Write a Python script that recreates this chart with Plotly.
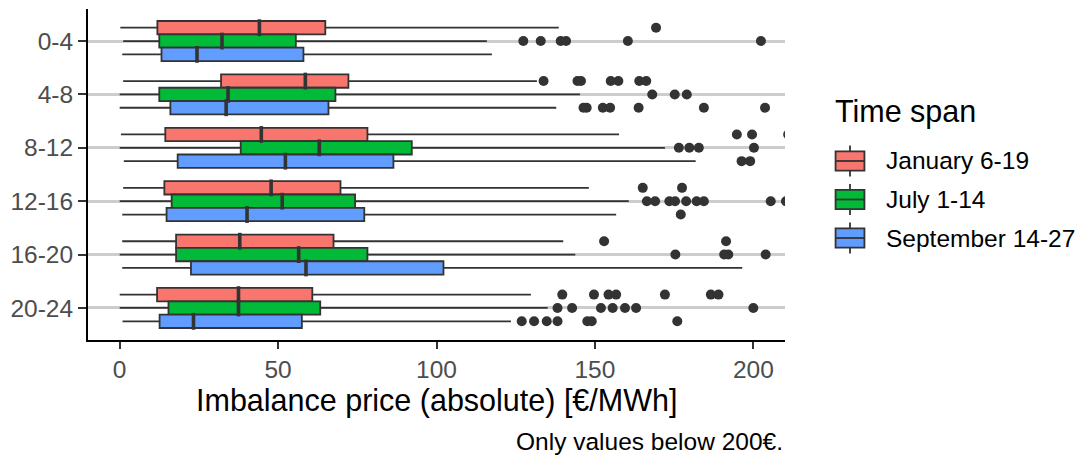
import plotly.graph_objects as go

# ---------------- data ----------------
hours = ["0-4", "4-8", "8-12", "12-16", "16-20", "20-24"]
spans = ["January 6-19", "July 1-14", "September 14-27"]
colors = ["#F8766D", "#00BA38", "#619CFF"]

jan_low = [0.2, 1.1, 0.4, 1.1, 0.8, 0.0]
jan_q1 = [11.9, 32.0, 14.4, 14.1, 17.8, 11.8]
jan_med = [44.1, 58.6, 44.7, 47.8, 37.9, 37.5]
jan_q3 = [64.9, 72.2, 78.2, 69.7, 67.5, 60.8]
jan_high = [138.6, 131.7, 157.6, 148.1, 140.0, 129.8]
jan_out = [[169.3],
           [133.8, 144.5, 145.6, 155.0, 157.4, 164.0, 166.2],
           [194.8, 199.6, 211.0],
           [165.1, 177.5],
           [152.9, 191.4],
           [139.7, 149.7, 154.3, 156.7, 172.1, 186.6, 189.0]]

jul_low = [1.1, 0.0, 0.0, 0.0, 0.0, 0.0]
jul_q1 = [12.5, 12.5, 38.2, 16.4, 17.8, 15.4]
jul_med = [32.3, 34.2, 63.0, 51.3, 56.5, 37.5]
jul_q3 = [55.6, 68.1, 92.2, 74.3, 78.2, 63.3]
jul_high = [115.9, 145.3, 172.1, 160.7, 143.8, 135.1]
jul_out = [[127.4, 132.9, 139.2, 140.9, 160.4, 202.4],
           [168.1, 175.2, 179.0],
           [176.5, 179.8, 182.8, 200.2],
           [166.4, 169.0, 173.5, 175.3, 178.8, 182.1, 184.4, 205.5, 210.3],
           [175.4, 190.8, 192.1, 203.9],
           [138.2, 142.8, 151.9, 155.6, 159.5, 163.0, 200.0]]

sep_low = [0.8, 0.0, 1.3, 0.8, 0.8, 0.9]
sep_q1 = [13.2, 16.0, 18.3, 14.8, 22.5, 12.6]
sep_med = [24.4, 33.6, 52.3, 40.2, 58.8, 23.3]
sep_q3 = [58.0, 65.9, 86.4, 77.2, 102.2, 57.5]
sep_high = [117.5, 137.8, 181.8, 156.7, 196.5, 123.5]
sep_out = [[],
           [146.4, 147.4, 152.5, 154.8, 163.8, 184.4, 203.7],
           [196.3, 199.0],
           [177.1],
           [],
           [126.9, 130.8, 134.8, 138.2, 147.6, 149.0, 176.0]]

x_ticks = [0, 50, 100, 150, 200]
x_title = "Imbalance price (absolute) [€/MWh]"
caption = "Only values below 200€."
legend_title = "Time span"

series = [
    (jan_low, jan_q1, jan_med, jan_q3, jan_high, jan_out),
    (jul_low, jul_q1, jul_med, jul_q3, jul_high, jul_out),
    (sep_low, sep_q1, sep_med, sep_q3, sep_high, sep_out),
]

# ---------------- layout geometry ----------------
W, H = 1083, 461
PL, PR, PT, PB = 88, 785, 9, 340   # panel edges in pixels
DODGE = 0.25                        # ggplot dodge 0.75 / 3 groups
FONT = "Liberation Sans"
INK = "#333333"
BIG, SMALL = 30.5, 24.5


def px_x(px):
    return (px - PL) / (PR - PL)


def px_y(py):
    return (PB - py) / (PB - PT)


fig = go.Figure()

for j, (low, q1, med, q3, high, out) in enumerate(series):
    pos = [i + 1 + (j - 1) * DODGE for i in range(len(hours))]
    fig.add_trace(go.Box(
        y=pos, q1=q1, median=med, q3=q3, lowerfence=low, upperfence=high,
        orientation="h", width=DODGE, whiskerwidth=0, boxpoints=False,
        fillcolor=colors[j], line=dict(color=INK, width=1.8),
        name=spans[j], showlegend=False,
    ))
    fig.add_trace(go.Scatter(
        x=med, y=pos, mode="markers", hoverinfo="skip", showlegend=False,
        marker=dict(symbol="line-ns", size=12,
                    line=dict(width=3.6, color=INK)),
    ))
    ox, oy = [], []
    for i, vals in enumerate(out):
        for v in vals:
            ox.append(v)
            oy.append(pos[i])
    fig.add_trace(go.Scatter(
        x=ox, y=oy, mode="markers", showlegend=False, name=spans[j],
        marker=dict(size=10, color=INK),
    ))

# ---------------- custom ggplot-like legend ----------------
shapes = []
annotations = []
key = 38.5
key_cx = 850
key_cy0 = 161
for j, name in enumerate(spans):
    cy = key_cy0 + j * key
    x0, x1 = px_x(key_cx - 0.375 * key), px_x(key_cx + 0.375 * key)
    shapes.append(dict(type="line", xref="paper", yref="paper",
                       x0=px_x(key_cx), x1=px_x(key_cx),
                       y0=px_y(cy - 0.4 * key), y1=px_y(cy - 0.25 * key),
                       line=dict(color=INK, width=1.8)))
    shapes.append(dict(type="line", xref="paper", yref="paper",
                       x0=px_x(key_cx), x1=px_x(key_cx),
                       y0=px_y(cy + 0.25 * key), y1=px_y(cy + 0.4 * key),
                       line=dict(color=INK, width=1.8)))
    shapes.append(dict(type="rect", xref="paper", yref="paper",
                       x0=x0, x1=x1,
                       y0=px_y(cy + 0.25 * key), y1=px_y(cy - 0.25 * key),
                       fillcolor=colors[j], line=dict(color=INK, width=1.8)))
    shapes.append(dict(type="line", xref="paper", yref="paper",
                       x0=x0, x1=x1, y0=px_y(cy), y1=px_y(cy),
                       line=dict(color=INK, width=1.8)))
    annotations.append(dict(text=name, xref="paper", yref="paper",
                            x=px_x(884), y=px_y(cy), xanchor="left",
                            yanchor="middle", showarrow=False,
                            font=dict(family=FONT, size=SMALL, color="black")))

annotations.append(dict(text=legend_title, xref="paper", yref="paper",
                        x=px_x(833), y=px_y(112), xanchor="left",
                        yanchor="middle", showarrow=False,
                        font=dict(family=FONT, size=BIG, color="black")))
annotations.append(dict(text=x_title, xref="paper", yref="paper",
                        x=0.5, y=px_y(401), xanchor="center",
                        yanchor="middle", showarrow=False,
                        font=dict(family=FONT, size=BIG, color="black")))
annotations.append(dict(text=caption, xref="paper", yref="paper",
                        x=1.0, y=px_y(442), xanchor="right",
                        yanchor="middle", showarrow=False,
                        font=dict(family=FONT, size=SMALL, color="black")))

fig.update_layout(
    width=W, height=H,
    margin=dict(l=PL, r=W - PR, t=PT, b=H - PB, pad=0),
    paper_bgcolor="white", plot_bgcolor="white",
    boxmode="overlay",
    showlegend=False,
    shapes=shapes, annotations=annotations,
    font=dict(family=FONT),
    xaxis=dict(range=[-10, 210], tickvals=x_ticks, showgrid=False,
               zeroline=False, showline=True, linecolor="black",
               linewidth=2, ticks="outside", ticklen=7, tickwidth=2,
               tickcolor=INK, automargin=False,
               tickfont=dict(family=FONT, size=SMALL, color="#4D4D4D")),
    yaxis=dict(range=[6.6, 0.4], tickvals=list(range(1, len(hours) + 1)),
               ticktext=hours, showgrid=True, gridcolor="#CDCDCD",
               gridwidth=2.5, zeroline=False, showline=True,
               linecolor="black", linewidth=2, ticks="outside", ticklen=8,
               tickwidth=2, tickcolor=INK, automargin=False,
               tickfont=dict(family=FONT, size=SMALL, color="#4D4D4D")),
)

fig.write_html("out.html",
               config={"displayModeBar": False},
               post_script="document.body.style.margin='0';"
                           "document.body.style.overflow='hidden';")
